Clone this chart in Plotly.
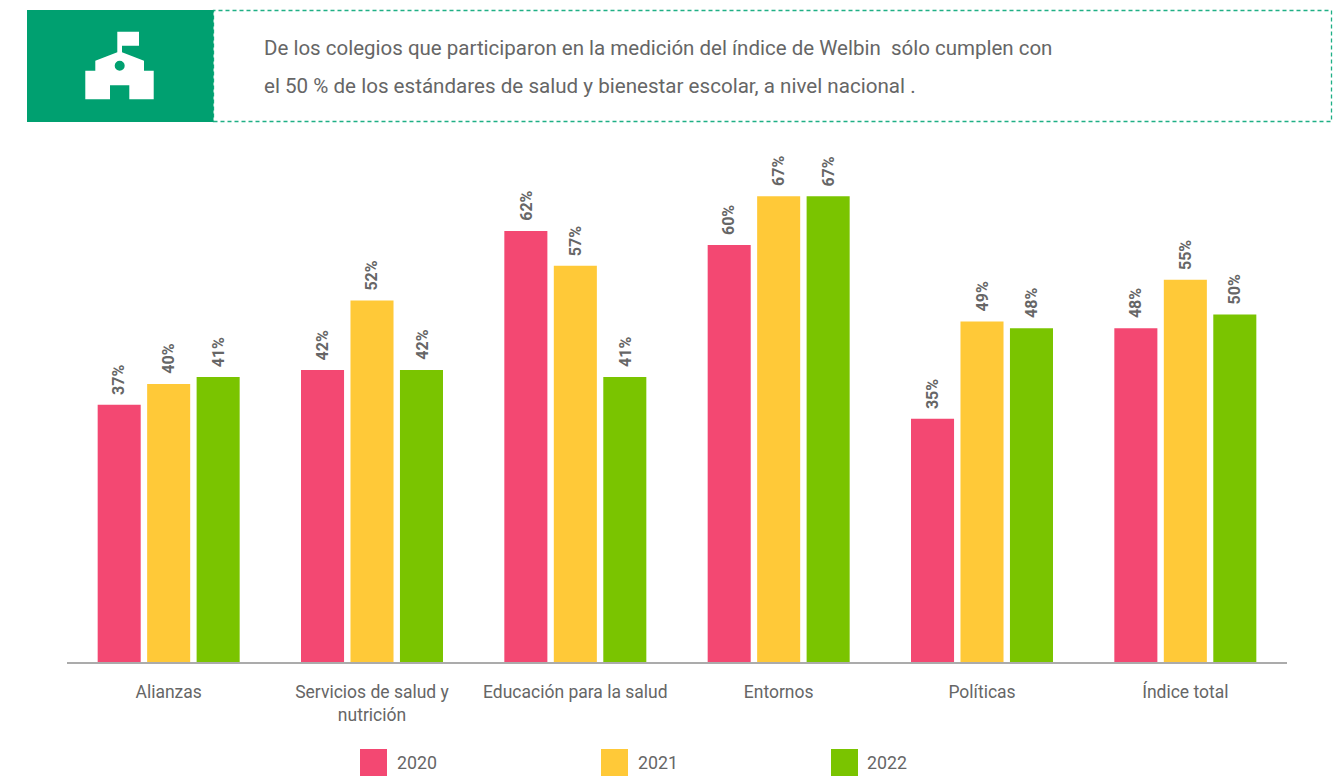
import plotly.graph_objects as go

categories = ["Alianzas", "Servicios de salud y<br>nutrición", "Educación para la salud", "Entornos", "Políticas", "Índice total"]
years = ["2020", "2021", "2022"]
v2020 = [37, 42, 62, 60, 35, 48]
v2021 = [40, 52, 57, 67, 49, 55]
v2022 = [41, 42, 41, 67, 48, 50]
headline = ["De los colegios que participaron en la medición del índice de Welbin  sólo cumplen con",
            "el 50 % de los estándares de salud y bienestar escolar, a nivel nacional ."]
colors = ["#F34872", "#FFC938", "#7AC400"]
FONT = "Roboto"
TXT = "#666666"
W, H = 1343, 776
L, R, T, B = 67, 56, 140, 114


def px(x):
    return (x - L) / (W - L - R)


def py(y):
    return 1 - (y - T) / (H - T - B)


def rect(x0, y0, x1, y1, **kw):
    return dict(type="rect", xref="paper", yref="paper", x0=px(x0), x1=px(x1), y0=py(y1), y1=py(y0), **kw)


def text(x, y, s, size, anchor="left", color=TXT):
    return dict(xref="paper", yref="paper", x=px(x), y=py(y), text=s, showarrow=False, xanchor=anchor,
                yanchor="middle", font=dict(family=FONT, size=size, color=color))


fig = go.Figure()
annotations = []
for i, (name, vals, c) in enumerate(zip(years, [v2020, v2021, v2022], colors)):
    fig.add_bar(x=categories, y=vals, name=name, marker=dict(color=c, line_width=0), showlegend=False)
    for cat, v in zip(categories, vals):
        annotations.append(dict(xref="x", yref="y", x=cat, y=v, text=f"{v}%", showarrow=False, textangle=-90,
                                xanchor="center", yanchor="bottom", xshift=(i - 1) * 49.6, yshift=8,
                                font=dict(family=FONT, size=16, color=TXT, weight="bold")))

icon = [(117.3, 52.3), (95.3, 60.7), (95.3, 70.7), (85.3, 70.7), (85.3, 99.3), (110, 99.3), (110, 85.3), (129.3, 85.3),
        (129.3, 99.3), (153.7, 99.3), (153.7, 70.7), (144, 70.7), (144, 60.7), (122, 52.3), (122, 45.7), (139, 45.7),
        (139, 31.7), (117.3, 31.7)]
path = "M" + "L".join(f"{px(a):.5f},{py(b):.5f}" for a, b in icon) + "Z"
shapes = [
    rect(213.5, 10.5, 1331.5, 121.5, line=dict(color="#1FAF85", width=1.3, dash="4px,3px"), fillcolor="white"),
    rect(27, 10, 213.5, 122, line_width=0, fillcolor="#00A070"),
    dict(type="path", xref="paper", yref="paper", path=path, fillcolor="white", line_width=0),
    dict(type="circle", xref="paper", yref="paper", x0=px(114.7), x1=px(124.7), y0=py(70.7), y1=py(60.7),
         fillcolor="#00A070", line_width=0),
]
annotations += [text(262, 48, headline[0], 20.5), text(262, 86, headline[1], 20.6)]
for year, c, x0, xt in zip(years, colors, [360, 601, 831], [395, 636, 865]):
    shapes.append(rect(x0, 749, x0 + 27, 776, line_width=0, fillcolor=c))
    annotations.append(text(xt, 762, year, 17.8))

fig.update_layout(
    width=W, height=H, autosize=False, margin=dict(l=L, r=R, t=T, b=B), paper_bgcolor="white", plot_bgcolor="white",
    barmode="group", bargap=0.27, bargroupgap=0.13, showlegend=False, shapes=shapes, annotations=annotations,
    xaxis=dict(type="category", showgrid=False, ticks="", showline=True, linecolor="#ABABAB", linewidth=2,
               tickfont=dict(family=FONT, size=17.5, color=TXT), ticklabelstandoff=13),
    yaxis=dict(range=[0, 75.1], visible=False, fixedrange=True),
)
fig.write_html("out.html", config=dict(displayModeBar=False),
               post_script="document.body.style.margin='0';document.body.style.overflow='hidden';")
